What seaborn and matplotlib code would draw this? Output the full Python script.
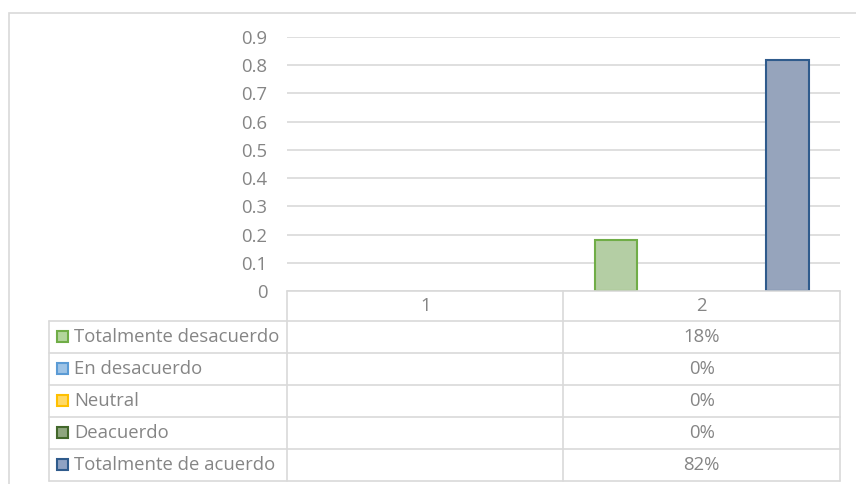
import numpy as np
import pandas as pd
import matplotlib
matplotlib.use("Agg")
import matplotlib.pyplot as plt
from matplotlib.patches import Rectangle
import seaborn as sns

# --------------------------------------------------------------------------------
categorias = ["1", "2"]
series = ["Totalmente desacuerdo", "En desacuerdo", "Neutral",
          "Deacuerdo", "Totalmente de acuerdo"]
valores_cat2 = [0.18, 0.0, 0.0, 0.0, 0.82]      # category "1" has no values
yticks = [0, 0.1, 0.2, 0.3, 0.4, 0.5, 0.6, 0.7, 0.8, 0.9]

fills = ["#b3d59d", "#9dc3e6", "#ffd966", "#8fa67f", "#8fa2c3"]
edges = ["#70ad47", "#5b9bd5", "#ffc000", "#43682b", "#2f5b8c"]
# --------------------------------------------------------------------------------

sns.set_style("white")
plt.rcParams["font.family"] = ["Open Sans", "DejaVu Sans"]
TXT = "#858585"
LINE = "#d9d9d9"
FS = 13.3

W, H = 856, 484
fig = plt.figure(figsize=(W / 100, H / 100), dpi=100)

# pixel layout of the Excel-like chart
x_left_tab, x_plot0, x_plot1 = 49, 287, 840
y_top, y_zero = 37, 291
y_rows = [291, 321, 353, 385, 417, 449, 481]


def fx(px):
    return px / W


def fy(py):
    return 1 - py / H


# outer chart frame
fig.patches.append(Rectangle((fx(9), -0.02), 1.05, fy(13) + 0.02,
                             transform=fig.transFigure, fill=False,
                             edgecolor=LINE, linewidth=1.2))

ax = fig.add_axes([fx(x_plot0), fy(y_zero), fx(x_plot1) - fx(x_plot0),
                   fy(y_top) - fy(y_zero)])

df = pd.DataFrame({"categoria": ["2"] * len(series),
                   "serie": series,
                   "valor": valores_cat2})

sns.barplot(data=df, x="categoria", y="valor", hue="serie",
            order=categorias, hue_order=series, palette=fills,
            width=0.775, linewidth=1.5, legend=False, ax=ax)
for cont, ec in zip(ax.containers, edges):
    for p in cont:
        p.set_edgecolor(ec)
        if p.get_height() == 0:
            p.set_visible(False)

ax.set_xlim(-0.5, len(categorias) - 0.5)
ax.set_ylim(0, 0.9)
ax.set_yticks(yticks)
ax.set_yticklabels([f"{t:g}" for t in yticks])
ax.set_xticks([])
ax.set_xlabel("")
ax.set_ylabel("")
ax.grid(axis="y", color=LINE, linewidth=1.2)
ax.set_axisbelow(True)
for s in ax.spines.values():
    s.set_visible(False)
ax.tick_params(axis="y", length=0, pad=14, labelsize=FS, labelcolor=TXT)

# data table under the plot
tab = fig.add_axes([0, 0, 1, 1], facecolor="none")
tab.set_xlim(0, W)
tab.set_ylim(H, 0)
tab.axis("off")

x_cols = np.linspace(x_plot0, x_plot1, len(categorias) + 1)
lk = dict(color=LINE, linewidth=1.2)
# header row (category axis)
tab.plot([x_plot0, x_plot1], [y_rows[0]] * 2, **lk)
for i, c in enumerate(categorias):
    tab.text((x_cols[i] + x_cols[i + 1]) / 2, (y_rows[0] + y_rows[1]) / 2, c,
             ha="center", va="center", color=TXT, fontsize=FS)
# horizontal lines
for y in y_rows[1:]:
    tab.plot([x_left_tab, x_plot1], [y, y], **lk)
# vertical lines
tab.plot([x_left_tab, x_left_tab], [y_rows[1], y_rows[-1]], **lk)
for x in x_cols:
    tab.plot([x, x], [y_rows[0], y_rows[-1]], **lk)

for r, (name, v) in enumerate(zip(series, valores_cat2)):
    yc = (y_rows[r + 1] + y_rows[r + 2]) / 2
    tab.add_patch(Rectangle((57, yc - 6), 11, 11, facecolor=fills[r],
                            edgecolor=edges[r], linewidth=1.5))
    tab.text(74, yc, name, ha="left", va="center", color=TXT, fontsize=FS)
    tab.text((x_cols[1] + x_cols[2]) / 2, yc, f"{v:.0%}",
             ha="center", va="center", color=TXT, fontsize=FS)

fig.savefig("out.png", dpi=100)
